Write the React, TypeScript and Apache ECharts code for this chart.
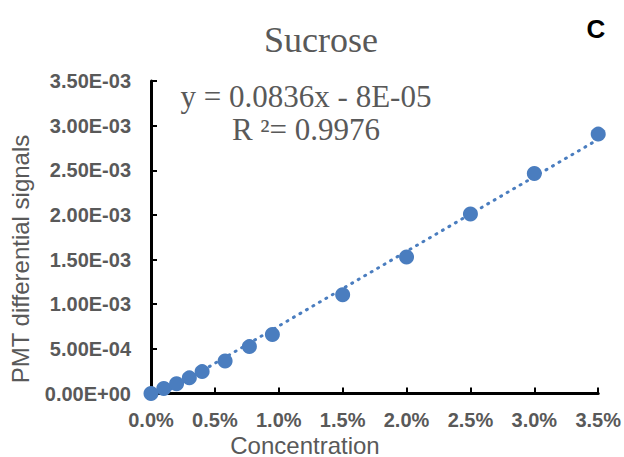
import React, { useEffect, useRef } from "react";
import * as echarts from "echarts";

// Sucrose calibration: concentration (fraction) vs PMT differential signal
const concentration = [0, 0.001, 0.002, 0.003, 0.004, 0.0058, 0.0077, 0.0095, 0.015, 0.02, 0.025, 0.03, 0.035];
const pmtSignal = [0.0, 0.000056, 0.00011, 0.000175, 0.000245, 0.000365, 0.000525, 0.00066, 0.001105, 0.00153, 0.00201, 0.002465, 0.002905];

// Linear fit reported for the series
const fitSlope = [0.0836];
const fitIntercept = [-0.00008];
const fitRSquared = ["0.9976"];

const xTicks = { min: 0, max: 0.035, interval: 0.005 };
const yTicks = { min: 0, max: 0.0035, interval: 0.0005 };

const chartTitle = "Sucrose";
const panelLetter = "C";
const xTitle = "Concentration";
const yTitle = "PMT differential signals";

const GRAY = "#595959";
const BLUE = "#4a7dbf";

function formatSci(v: number): string {
  if (v === 0) return "0.00E+00";
  const [m, e] = v.toExponential(2).split("e");
  const n = parseInt(e, 10);
  return m + "E" + (n < 0 ? "-" : "+") + String(Math.abs(n)).padStart(2, "0");
}

export default function App() {
  const ref = useRef<HTMLDivElement>(null);

  useEffect(() => {
    if (!ref.current) return;
    const chart = echarts.init(ref.current, undefined, { renderer: "svg" });

    const slope = fitSlope[0];
    const intercept = fitIntercept[0];
    const xFirst = concentration[0];
    const xLast = concentration[concentration.length - 1];
    const fitLine = [
      [xFirst, slope * xFirst + intercept],
      [xLast, slope * xLast + intercept],
    ];
    const fmtTerm = (b: number) => {
      const [m, e] = b.toExponential(0).split("e");
      const n = parseInt(e, 10);
      return Math.abs(parseFloat(m)) + "E" + (n < 0 ? "-" : "+") + String(Math.abs(n)).padStart(2, "0");
    };
    const equation = `y = ${slope}x ${intercept < 0 ? "-" : "+"} ${fmtTerm(intercept)}`;

    chart.setOption({
      animation: false,
      backgroundColor: "#ffffff",
      grid: { left: 151, right: 25, top: 81, bottom: 63.5, containLabel: false },
      xAxis: {
        type: "value",
        min: xTicks.min,
        max: xTicks.max,
        interval: xTicks.interval,
        axisLine: { show: true, onZero: false, lineStyle: { color: "#000", width: 3 } },
        axisTick: { show: true, inside: true, length: 6, lineStyle: { color: "#000", width: 2 } },
        splitLine: { show: false },
        axisLabel: {
          margin: 16,
          fontFamily: "Liberation Sans",
          fontWeight: "bold",
          fontSize: 20,
          color: GRAY,
          formatter: (v: number) => (v * 100).toFixed(1) + "%",
        },
      },
      yAxis: {
        type: "value",
        min: yTicks.min,
        max: yTicks.max,
        interval: yTicks.interval,
        axisLine: { show: true, onZero: false, lineStyle: { color: "#000", width: 3 } },
        axisTick: { show: true, inside: true, length: 6, lineStyle: { color: "#000", width: 2 } },
        splitLine: { show: false },
        axisLabel: {
          margin: 20,
          fontFamily: "Liberation Sans",
          fontWeight: "bold",
          fontSize: 20,
          color: GRAY,
          formatter: (v: number) => formatSci(v),
        },
      },
      series: [
        {
          type: "line",
          data: fitLine,
          showSymbol: false,
          symbol: "none",
          clip: true,
          z: 1,
          lineStyle: { color: BLUE, width: 3, type: [1, 6.5], cap: "round" },
          silent: true,
        },
        {
          type: "scatter",
          data: concentration.map((x, i) => [x, pmtSignal[i]]),
          symbol: "circle",
          symbolSize: 15,
          clip: false,
          z: 2,
          itemStyle: { color: BLUE, opacity: 1 },
        },
      ],
      graphic: [
        {
          type: "text",
          x: 321,
          y: 40,
          style: {
            text: chartTitle,
            font: "36px 'Liberation Serif'",
            fill: GRAY,
            align: "center",
            verticalAlign: "middle",
          },
        },
        {
          type: "text",
          x: 306,
          y: 96,
          style: {
            text: equation,
            font: "31px 'Liberation Serif'",
            fill: GRAY,
            align: "center",
            verticalAlign: "middle",
          },
        },
        {
          type: "text",
          x: 306,
          y: 129,
          style: {
            text: `R ²= ${fitRSquared[0]}`,
            font: "31px 'Liberation Serif'",
            fill: GRAY,
            align: "center",
            verticalAlign: "middle",
          },
        },
        {
          type: "text",
          x: 596,
          y: 29,
          style: {
            text: panelLetter,
            font: "bold 26px 'Liberation Sans'",
            fill: "#000",
            align: "center",
            verticalAlign: "middle",
          },
        },
        {
          type: "text",
          x: 305,
          y: 445,
          style: {
            text: xTitle,
            font: "24px 'Liberation Sans'",
            fill: GRAY,
            align: "center",
            verticalAlign: "middle",
          },
        },
        {
          type: "text",
          x: 20,
          y: 259,
          rotation: Math.PI / 2,
          style: {
            text: yTitle,
            font: "24px 'Liberation Sans'",
            fill: GRAY,
            align: "center",
            verticalAlign: "middle",
          },
        },
      ],
    });

    return () => chart.dispose();
  }, []);

  return (
    <div
      ref={ref}
      style={{ position: "fixed", left: 0, top: 0, width: 624, height: 457, background: "#fff" }}
    />
  );
}
